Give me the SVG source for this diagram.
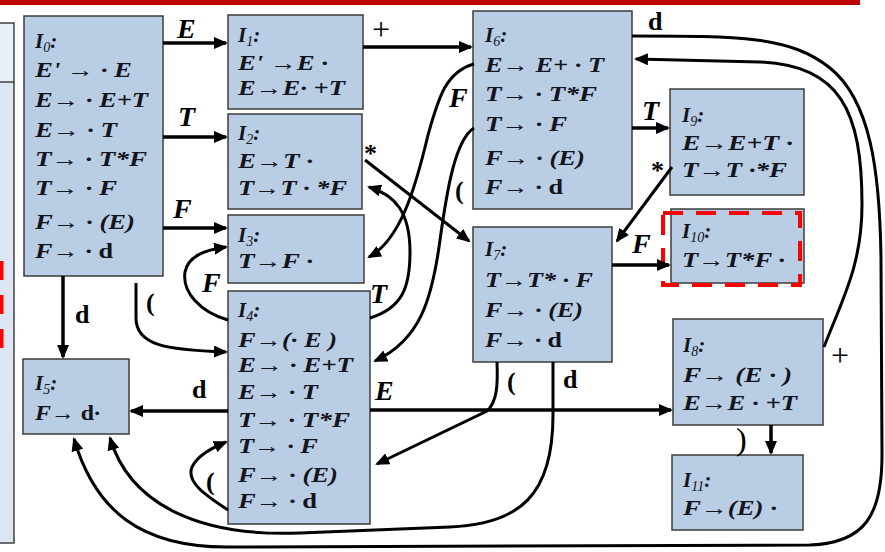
<svg xmlns="http://www.w3.org/2000/svg" width="885" height="552" viewBox="0 0 885 552">
<style>
.box{fill:#b9cde5;stroke:#3c3c3c;stroke-width:1.5}
.t{font-family:"Liberation Serif","Times New Roman",serif;font-size:21px;font-weight:bold;font-style:italic;fill:#14141c}
.u{font-style:normal}
.a{font-weight:normal;font-style:normal}
.sub{font-size:14px;font-weight:normal}
.c{fill:none;stroke:#000;stroke-width:3}
.s{fill:none;stroke:#000;stroke-width:3.5}
.l{font-family:"Liberation Serif","Times New Roman",serif;font-size:28px;font-weight:bold;font-style:italic;fill:#000}
.lu{font-family:"Liberation Serif","Times New Roman",serif;font-size:26px;font-weight:bold;fill:#000}
.lr{font-family:"Liberation Serif","Times New Roman",serif;font-size:32px;font-weight:normal;fill:#000}
</style>
<defs>
<marker id="ah" markerUnits="userSpaceOnUse" markerWidth="14" markerHeight="12" refX="12" refY="6" orient="auto">
<path d="M0,0 L14,6 L0,12 z" fill="#000"/>
</marker>
</defs>
<rect width="885" height="552" fill="#fff"/>
<rect x="0" y="0" width="860" height="5" fill="#c00000"/>
<g id="leftpanel">
<rect x="-2" y="23" width="16" height="520" fill="#dce6f2" stroke="#404040" stroke-width="1.5"/>
<rect x="-1" y="24" width="14" height="58" fill="#eaf0f8"/>
<line x1="-2" y1="82" x2="14" y2="82" stroke="#404040" stroke-width="1.5"/>
<line x1="1.5" y1="261" x2="1.5" y2="350" stroke="#ff0000" stroke-width="4" stroke-dasharray="19 15"/>
</g>
<g id="I0">
<rect class="box" x="24" y="16" width="139" height="260"/>
<text class="t" x="35" y="48">I<tspan class="sub" dy="4">0</tspan><tspan dy="-4">:</tspan></text>
<text class="t" x="35" y="77" textLength="97" lengthAdjust="spacingAndGlyphs">E' <tspan class="a">→</tspan> · E</text>
<text class="t" x="35" y="107" textLength="113" lengthAdjust="spacingAndGlyphs">E<tspan class="a">→</tspan> · E+T</text>
<text class="t" x="35" y="137" textLength="82" lengthAdjust="spacingAndGlyphs">E<tspan class="a">→</tspan> · T</text>
<text class="t" x="35" y="166" textLength="112" lengthAdjust="spacingAndGlyphs">T<tspan class="a">→</tspan> · T*F</text>
<text class="t" x="35" y="195" textLength="82" lengthAdjust="spacingAndGlyphs">T<tspan class="a">→</tspan> · F</text>
<text class="t" x="35" y="229" textLength="100" lengthAdjust="spacingAndGlyphs">F<tspan class="a">→</tspan> · (E)</text>
<text class="t" x="35" y="258" textLength="78" lengthAdjust="spacingAndGlyphs">F<tspan class="a">→</tspan> · <tspan class="u">d</tspan></text>
</g>
<g id="I1">
<rect class="box" x="228" y="15" width="135" height="94"/>
<text class="t" x="238" y="42">I<tspan class="sub" dy="4">1</tspan><tspan dy="-4">:</tspan></text>
<text class="t" x="238" y="70" textLength="90" lengthAdjust="spacingAndGlyphs">E' <tspan class="a">→</tspan>E ·</text>
<text class="t" x="238" y="95" textLength="107" lengthAdjust="spacingAndGlyphs">E<tspan class="a">→</tspan>E· +T</text>
</g>
<g id="I2">
<rect class="box" x="228" y="114" width="134" height="95"/>
<text class="t" x="238" y="140">I<tspan class="sub" dy="4">2</tspan><tspan dy="-4">:</tspan></text>
<text class="t" x="238" y="168" textLength="75" lengthAdjust="spacingAndGlyphs">E<tspan class="a">→</tspan>T ·</text>
<text class="t" x="238" y="195" textLength="109" lengthAdjust="spacingAndGlyphs">T<tspan class="a">→</tspan>T · *F</text>
</g>
<g id="I3">
<rect class="box" x="228" y="215" width="136" height="68"/>
<text class="t" x="238" y="242">I<tspan class="sub" dy="4">3</tspan><tspan dy="-4">:</tspan></text>
<text class="t" x="238" y="268" textLength="75" lengthAdjust="spacingAndGlyphs">T<tspan class="a">→</tspan>F ·</text>
</g>
<g id="I4">
<rect class="box" x="228" y="291" width="142" height="233"/>
<text class="t" x="238" y="317">I<tspan class="sub" dy="4">4</tspan><tspan dy="-4">:</tspan></text>
<text class="t" x="238" y="347" textLength="99" lengthAdjust="spacingAndGlyphs">F<tspan class="a">→</tspan>(· E )</text>
<text class="t" x="238" y="372" textLength="115" lengthAdjust="spacingAndGlyphs">E<tspan class="a">→</tspan> · E+T</text>
<text class="t" x="238" y="399" textLength="80" lengthAdjust="spacingAndGlyphs">E<tspan class="a">→</tspan> · T</text>
<text class="t" x="238" y="427" textLength="112" lengthAdjust="spacingAndGlyphs">T<tspan class="a">→</tspan> · T*F</text>
<text class="t" x="238" y="453" textLength="80" lengthAdjust="spacingAndGlyphs">T<tspan class="a">→</tspan> · F</text>
<text class="t" x="238" y="482" textLength="100" lengthAdjust="spacingAndGlyphs">F<tspan class="a">→</tspan> · (E)</text>
<text class="t" x="238" y="508" textLength="79" lengthAdjust="spacingAndGlyphs">F<tspan class="a">→</tspan> · <tspan class="u">d</tspan></text>
</g>
<g id="I5">
<rect class="box" x="23" y="359" width="106" height="75"/>
<text class="t" x="35" y="390">I<tspan class="sub" dy="4">5</tspan><tspan dy="-4">:</tspan></text>
<text class="t" x="35" y="420" textLength="65" lengthAdjust="spacingAndGlyphs">F<tspan class="a">→</tspan> <tspan class="u">d</tspan>·</text>
</g>
<g id="I6">
<rect class="box" x="473" y="11" width="159" height="198"/>
<text class="t" x="485" y="42">I<tspan class="sub" dy="4">6</tspan><tspan dy="-4">:</tspan></text>
<text class="t" x="485" y="72" textLength="119" lengthAdjust="spacingAndGlyphs">E<tspan class="a">→</tspan> E+ · T</text>
<text class="t" x="485" y="101" textLength="112" lengthAdjust="spacingAndGlyphs">T<tspan class="a">→</tspan> · T*F</text>
<text class="t" x="485" y="131" textLength="82" lengthAdjust="spacingAndGlyphs">T<tspan class="a">→</tspan> · F</text>
<text class="t" x="485" y="165" textLength="100" lengthAdjust="spacingAndGlyphs">F<tspan class="a">→</tspan> · (E)</text>
<text class="t" x="485" y="194" textLength="78" lengthAdjust="spacingAndGlyphs">F<tspan class="a">→</tspan> · <tspan class="u">d</tspan></text>
</g>
<g id="I7">
<rect class="box" x="473" y="227" width="139" height="135"/>
<text class="t" x="485" y="256">I<tspan class="sub" dy="4">7</tspan><tspan dy="-4">:</tspan></text>
<text class="t" x="485" y="287" textLength="108" lengthAdjust="spacingAndGlyphs">T<tspan class="a">→</tspan>T* · F</text>
<text class="t" x="485" y="317" textLength="98" lengthAdjust="spacingAndGlyphs">F<tspan class="a">→</tspan> · (E)</text>
<text class="t" x="485" y="347" textLength="77" lengthAdjust="spacingAndGlyphs">F<tspan class="a">→</tspan> · <tspan class="u">d</tspan></text>
</g>
<g id="I9">
<rect class="box" x="670" y="89" width="134" height="106"/>
<text class="t" x="682" y="122">I<tspan class="sub" dy="4">9</tspan><tspan dy="-4">:</tspan></text>
<text class="t" x="682" y="150" textLength="111" lengthAdjust="spacingAndGlyphs">E<tspan class="a">→</tspan>E+T ·</text>
<text class="t" x="682" y="177" textLength="105" lengthAdjust="spacingAndGlyphs">T<tspan class="a">→</tspan>T ·*F</text>
</g>
<g id="I10">
<rect class="box" x="671" y="209" width="133" height="74"/>
<text class="t" x="682" y="238">I<tspan class="sub" dy="4">10</tspan><tspan dy="-4">:</tspan></text>
<text class="t" x="682" y="267" textLength="103" lengthAdjust="spacingAndGlyphs">T<tspan class="a">→</tspan>T*F ·</text>
<rect x="663" y="213" width="137" height="72" fill="none" stroke="#ff0000" stroke-width="4" stroke-dasharray="20 13"/>
</g>
<g id="I8">
<rect class="box" x="673" y="319" width="150" height="106"/>
<text class="t" x="683" y="352">I<tspan class="sub" dy="4">8</tspan><tspan dy="-4">:</tspan></text>
<text class="t" x="683" y="382" textLength="109" lengthAdjust="spacingAndGlyphs">F<tspan class="a">→</tspan> (E · )</text>
<text class="t" x="683" y="410" textLength="114" lengthAdjust="spacingAndGlyphs">E<tspan class="a">→</tspan>E · +T</text>
</g>
<g id="I11">
<rect class="box" x="672" y="455" width="131" height="75"/>
<text class="t" x="683" y="487">I<tspan class="sub" dy="4">11</tspan><tspan dy="-4">:</tspan></text>
<text class="t" x="683" y="515" textLength="94" lengthAdjust="spacingAndGlyphs">F<tspan class="a">→</tspan>(E) ·</text>
</g>
<g id="connectors">
<path class="s" d="M163,43 L226,43" marker-end="url(#ah)"/>
<text class="l" x="177" y="38">E</text>
<path class="s" d="M163,137 L226,137" marker-end="url(#ah)"/>
<text class="l" x="178" y="126">T</text>
<path class="s" d="M163,228 L226,228" marker-end="url(#ah)"/>
<text class="l" x="173" y="218">F</text>
<path class="s" d="M63,276 L63,357" marker-end="url(#ah)"/>
<text class="lu" x="75" y="323">d</text>
<path class="c" d="M136,283 L136,318 C136,345 165,350 226,352" marker-end="url(#ah)"/>
<text class="lu" x="146" y="311">(</text>
<path class="s" d="M363,47 L471,47" marker-end="url(#ah)"/>
<text class="lr" x="372" y="40">+</text>
<path class="c" d="M365,160 L469,241" marker-end="url(#ah)"/>
<text class="lu" x="364" y="162">*</text>
<path class="c" d="M370,318 C402,308 410,288 410,252 C410,212 395,195 369,187" marker-end="url(#ah)"/>
<text class="l" x="370" y="303">T</text>
<path class="c" d="M474,64 C445,72 438,100 428,135 C415,190 400,240 369,257" marker-end="url(#ah)"/>
<text class="l" x="449" y="107">F</text>
<path class="c" d="M474,128 C455,140 447,190 440,240 C432,300 420,340 375,361" marker-end="url(#ah)"/>
<text class="lu" x="455" y="199">(</text>
<path class="s" d="M632,128 L668,128" marker-end="url(#ah)"/>
<text class="l" x="642" y="120">T</text>
<path class="c" d="M672,167 L617,241" marker-end="url(#ah)"/>
<text class="lu" x="651" y="179">*</text>
<path class="s" d="M612,265 L669,265" marker-end="url(#ah)"/>
<text class="l" x="632" y="253">F</text>
<path class="c" d="M632,36 C740,36 790,36 830,68 C870,100 880,170 881,260 L882,455 C882,515 865,543 810,545 L230,547 C140,548 95,510 74,439" marker-end="url(#ah)"/>
<text class="lu" x="648" y="30">d</text>
<path class="s" d="M228,411 L131,411" marker-end="url(#ah)"/>
<text class="lu" x="192" y="398">d</text>
<path class="s" d="M370,410 L671,410" marker-end="url(#ah)"/>
<text class="l" x="375" y="400">E</text>
<path class="c" d="M228,320 C200,312 182,292 185,272 C188,256 205,250 226,247" marker-end="url(#ah)"/>
<text class="l" x="202" y="292">F</text>
<path class="c" d="M228,510 C205,495 186,482 192,467 C198,455 212,448 226,442" marker-end="url(#ah)"/>
<text class="lu" x="206" y="490">(</text>
<path class="c" d="M497,362 C498,385 497,402 487,411 L377,464" marker-end="url(#ah)"/>
<text class="lu" x="507" y="390">(</text>
<path class="c" d="M553,362 L553,415 C553,495 520,524 450,527 L300,533 C200,537 130,505 110,438" marker-end="url(#ah)"/>
<text class="lu" x="563" y="388">d</text>
<path class="s" d="M771,425 L771,453" marker-end="url(#ah)"/>
<text class="lr" x="736" y="450">)</text>
<path class="c" d="M824,347 C842,300 862,265 862,205 C862,110 840,66 760,62 L636,59" marker-end="url(#ah)"/>
<text class="lr" x="831" y="366">+</text>
</g>
</svg>
